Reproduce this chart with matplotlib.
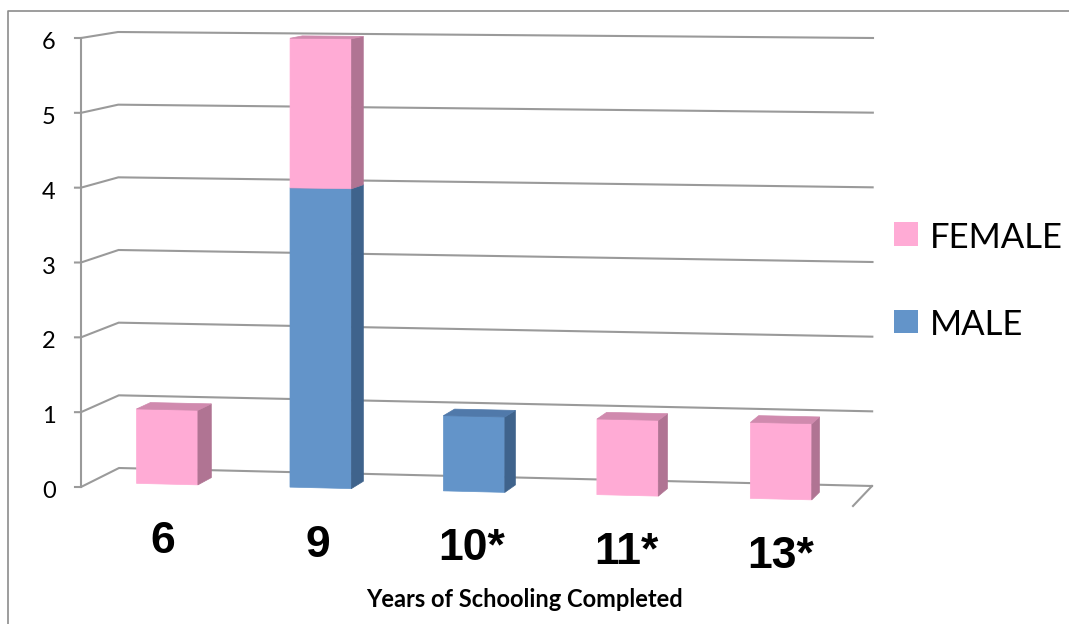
import numpy as np
import matplotlib
matplotlib.use('Agg')
import matplotlib.pyplot as plt
from matplotlib.patches import Polygon, Rectangle

# dados do grafico
categorias = ['6', '9', '10*', '11*', '13*']
masculino = [0, 4, 1, 0, 0]
feminino = [1, 2, 0, 1, 1]
y_ticks = [0, 1, 2, 3, 4, 5, 6]
titulo_x = 'Years of Schooling Completed'

# cores (frente, lado, topo) estilo excel 3d
cor_fem = ('#FFABD5', '#B07493', '#D08AAE')
cor_masc = ('#6394C9', '#3F638C', '#5079AA')
cor_grade = '#9A9A9A'

n_cat = len(categorias)
y_max = max(y_ticks)
largura = 0.4        # largura da barra (unidade de categoria)
prof = (0.25, 0.63)  # profundidade da barra dentro da caixa

# cantos da caixa 3d em pixels: (u0,v0), (u1,v0), (u0,v1), (u1,v1)
frente = np.array([[81, 487], [853, 506], [81, 38], [854, 45]], float)
fundo = np.array([[119, 468], [872, 486], [118, 32], [873, 38]], float)


def bilinear(q, u, v):
    return (1-u)*(1-v)*q[0] + u*(1-v)*q[1] + (1-u)*v*q[2] + u*v*q[3]


def proj(x, y, z):
    # projeta (categoria, valor, profundidade) para o pixel da figura
    u = x / n_cat
    v = y / y_max
    return (1-z)*bilinear(frente, u, v) + z*bilinear(fundo, u, v)


def caixa(ax, i, base, topo, cores):
    x0 = i + 0.5 - largura/2
    x1 = i + 0.5 + largura/2
    z0, z1 = prof
    face_frente = [proj(x0, base, z0), proj(x1, base, z0), proj(x1, topo, z0), proj(x0, topo, z0)]
    face_lado = [proj(x1, base, z0), proj(x1, base, z1), proj(x1, topo, z1), proj(x1, topo, z0)]
    face_topo = [proj(x0, topo, z0), proj(x1, topo, z0), proj(x1, topo, z1), proj(x0, topo, z1)]
    for pts, c in zip([face_frente, face_lado, face_topo], cores):
        ax.add_patch(Polygon(pts, closed=True, facecolor=c, edgecolor=c, lw=0.5, zorder=3))


fig = plt.figure(figsize=(10.69, 6.24), dpi=100)
ax = fig.add_axes([0, 0, 1, 1])
ax.set_xlim(0, 1069)
ax.set_ylim(624, 0)
ax.axis('off')

# moldura de fora
ax.plot([8, 8, 1069], [624, 11, 11], color='#8C8C8C', lw=1.2, zorder=1)

# grade: parede do fundo + parede esquerda + ticks
for v in y_ticks:
    a = proj(0, v, 0)
    b = proj(0, v, 1)
    c = proj(n_cat, v, 1)
    ax.plot([a[0]-6, a[0], b[0], c[0]], [a[1], a[1], b[1], c[1]], color=cor_grade, lw=1.5, zorder=1,
            solid_joinstyle='miter')
    ax.text(a[0]-32, a[1]+11, str(v), ha='center', va='baseline', fontsize=17, family='Lato', color='black')

# eixo vertical e a borda direita do chao
p0, p6 = proj(0, 0, 0), proj(0, y_max, 0)
ax.plot([p0[0], p6[0]], [p0[1], p6[1]], color=cor_grade, lw=1.5, zorder=1)
q0, q1 = proj(n_cat, 0, 1), proj(n_cat, 0, 0)
ax.plot([q0[0], q1[0]], [q0[1], q1[1]], color=cor_grade, lw=1.5, zorder=1)

# barras empilhadas (masculino embaixo, feminino em cima)
for i in range(n_cat):
    if masculino[i] > 0:
        caixa(ax, i, 0, masculino[i], cor_masc)
    if feminino[i] > 0:
        caixa(ax, i, masculino[i], masculino[i] + feminino[i], cor_fem)

# rotulos das categorias
for i, cat in enumerate(categorias):
    p = proj(i + 0.5, 0, 0)
    ax.text(p[0] + 5, p[1] + 64, cat, ha='center', va='baseline', fontsize=32,
            family='Liberation Sans', fontweight='bold', color='black')

ax.text(524, 607, titulo_x, ha='center', va='baseline', fontsize=17, family='Lato',
        fontweight='bold', color='black')

# legenda
ax.add_patch(Rectangle((894, 222), 24, 24, facecolor=cor_fem[0], edgecolor='none'))
ax.text(930, 248, 'FEMALE', ha='left', va='baseline', fontsize=25, family='Lato', color='black')
ax.add_patch(Rectangle((894, 310), 24, 23, facecolor=cor_masc[0], edgecolor='none'))
ax.text(930, 335, 'MALE', ha='left', va='baseline', fontsize=25, family='Lato', color='black')

fig.savefig('out.png', dpi=100)
